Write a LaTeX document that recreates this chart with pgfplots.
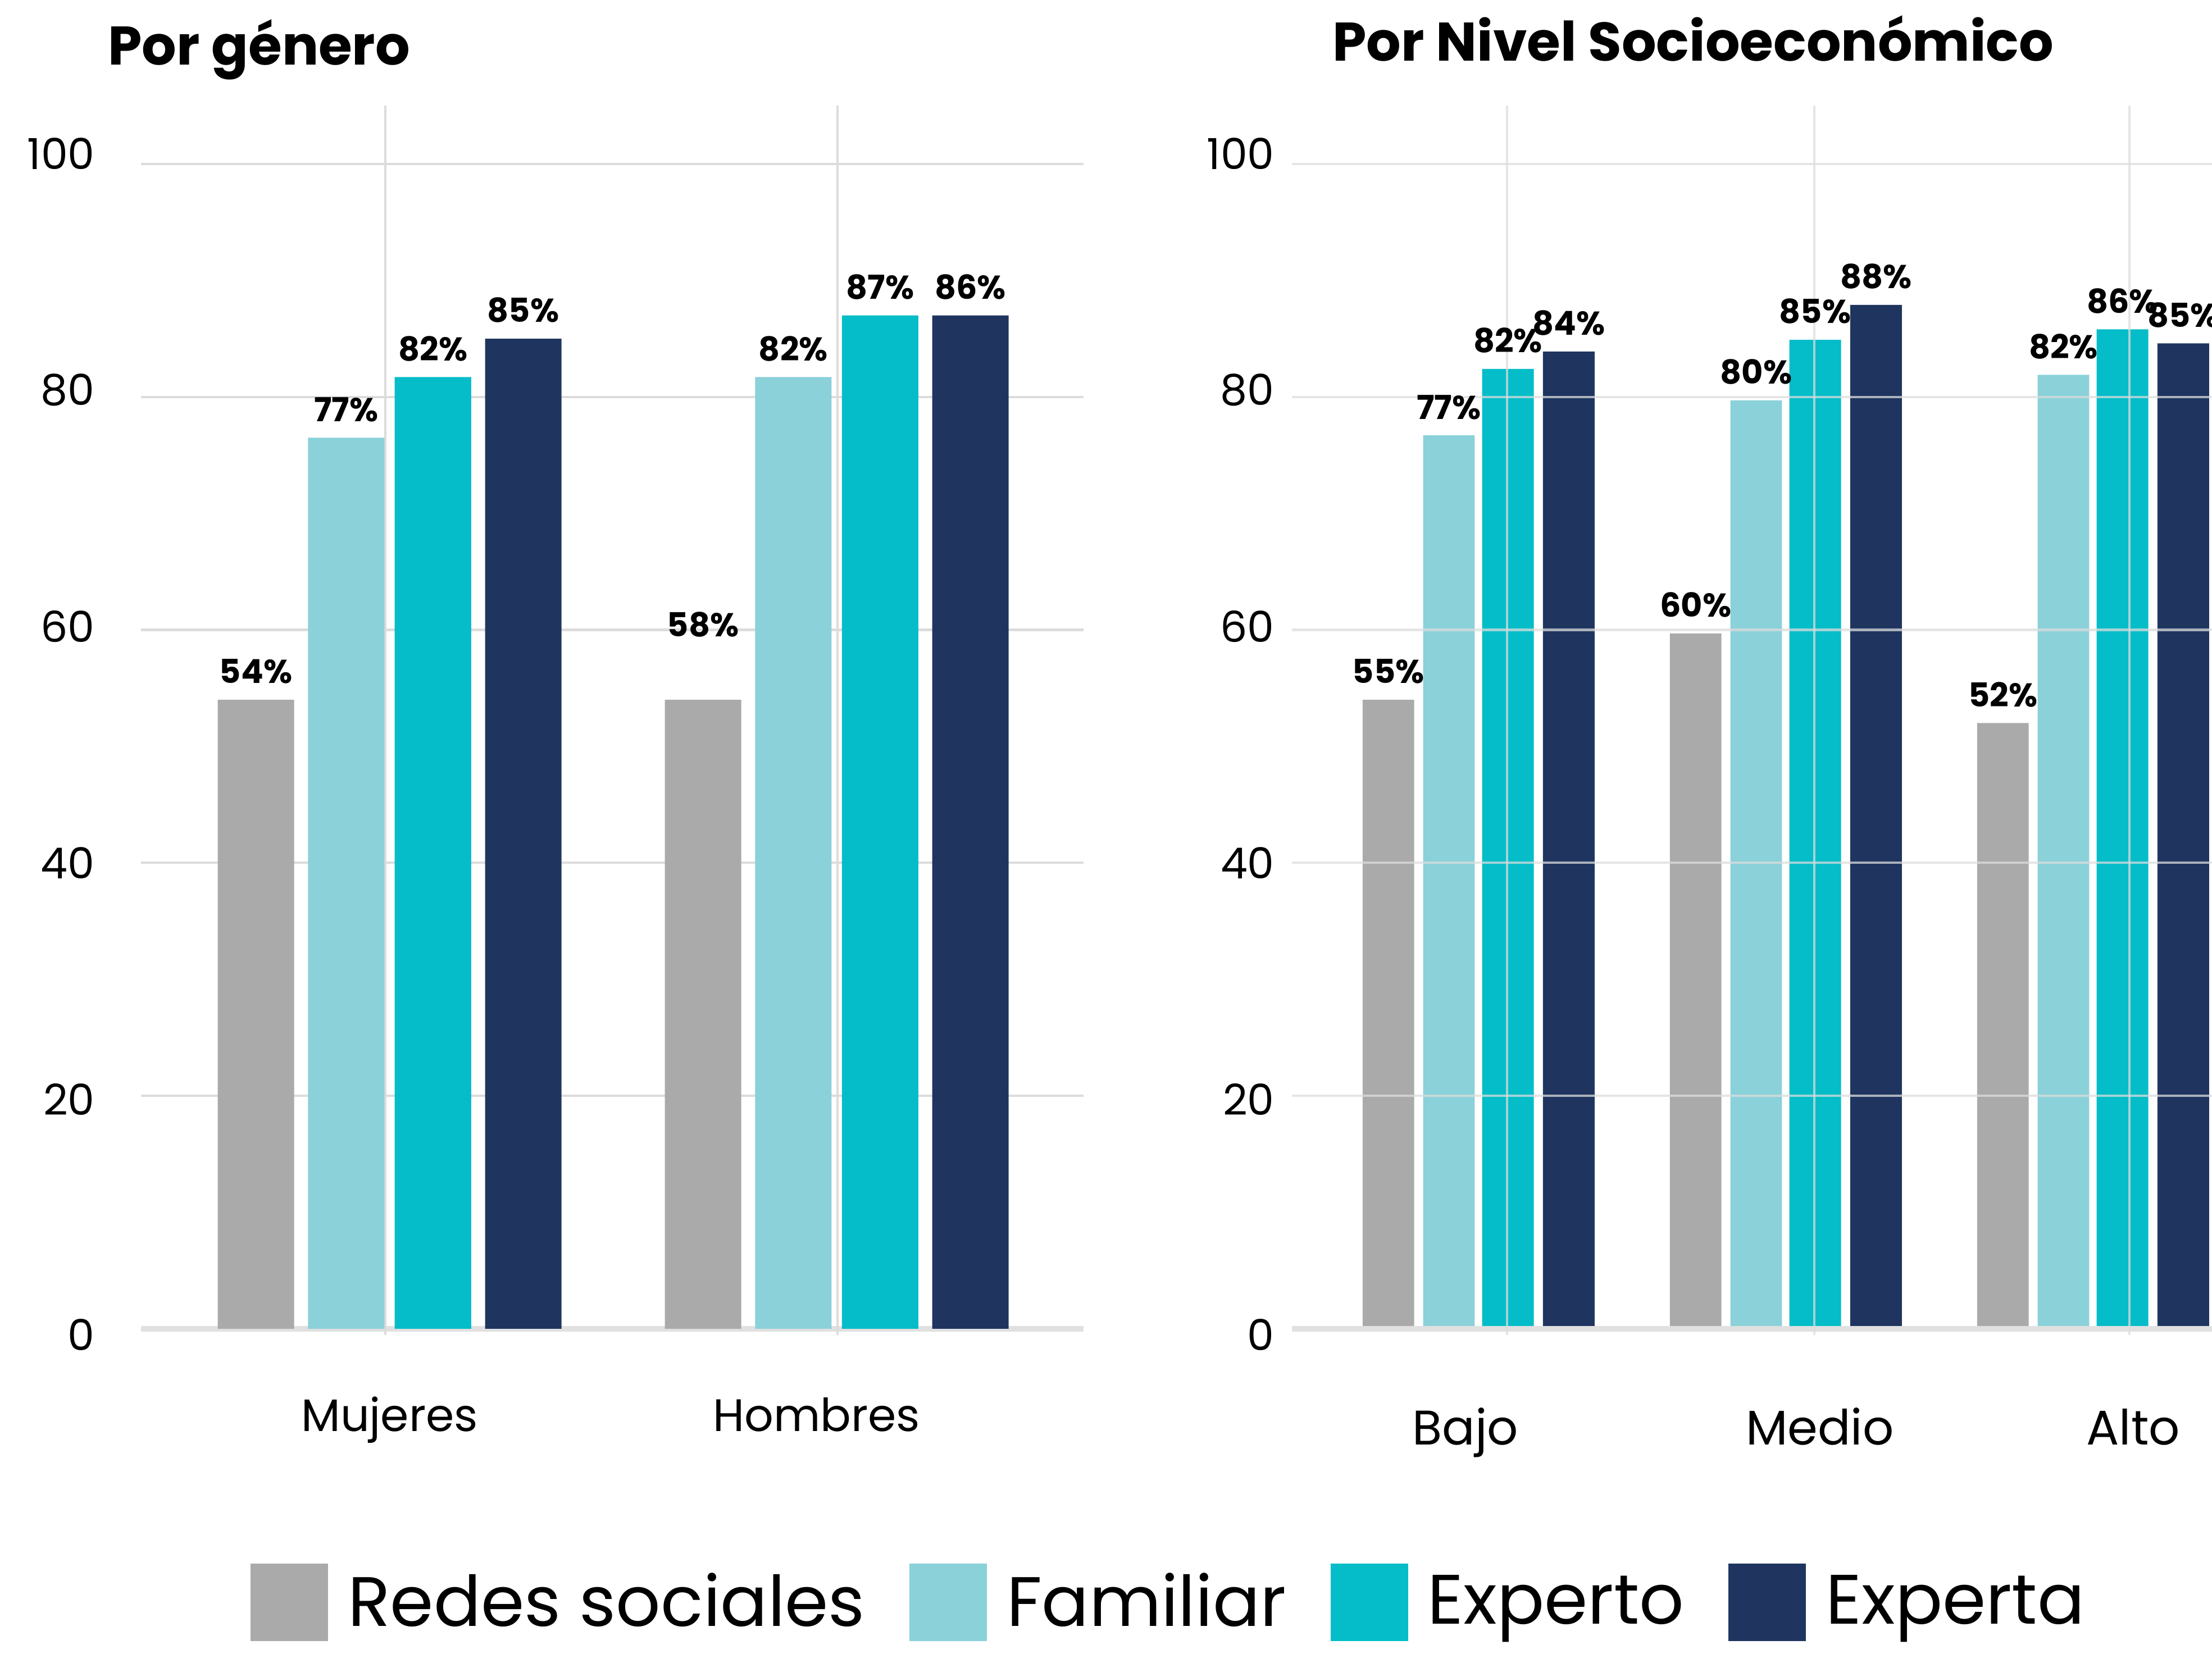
\documentclass[border=0pt]{standalone}
\usepackage{fontspec}
\setmainfont{Poppins}
\usepackage{pgfplots}
\usepackage{pgfplotstable}
\pgfplotsset{compat=1.18}
\definecolor{cRed}{HTML}{AAAAAA}
\definecolor{cFam}{HTML}{8AD1D9}
\definecolor{cExpo}{HTML}{04BDC8}
\definecolor{cExpa}{HTML}{1F3560}
\definecolor{cGrid}{HTML}{DCDCDC}
\definecolor{cBase}{HTML}{E0E0E0}

% drawn bar height / printed label (redpos = where the grey label sits)
\pgfplotstableread{
x red redpos redl fam faml expo expol expa expal
0 54.0 54.0 54 76.5 77 81.7 82 85.0 85
1 54.0 58.0 58 81.7 82 87.0 87 87.0 86
}\genero
\pgfplotstableread{
x red redl fam faml expo expol expa expal
0 54.0 55 76.7 77 82.4 82 83.9 84
1 59.7 60 79.7 80 84.9 85 87.9 88
2 52.0 52 81.9 82 85.8 86 84.6 85
}\nse

\pgfplotsset{
  lab/.style={
    nodes near coords={\pgfplotspointmeta\%},
    nodes near coords style={font=\fontsize{8.5}{10}\bfseries\selectfont, anchor=south, inner sep=0pt, yshift=0.137cm, text=black},
  },
  panel/.style={
    scale only axis,
    ybar,
    ymin=-0.55, ymax=105,
    axis x line=middle, axis y line=left,
    x axis line style={draw=cBase, line width=1.4pt, -},
    y axis line style={draw=none},
    tick style={draw=none},
    major tick length=0pt,
    ytick={-0.53,19.7,40.0,60.3,80.6,100.9},
    yticklabels={0,20,40,60,80,100},
    yticklabel style={anchor=east, inner sep=0pt, font=\fontsize{11}{13}\selectfont},
    extra y ticks={20,40,60,80,100},
    extra y tick labels={,,,,},
    extra y tick style={grid=major},
    extra x tick style={grid=major},
    grid style={draw=cGrid, line width=0.6pt},
    point meta=explicit symbolic,
    clip=false,
  },
}

\begin{document}
\begin{tikzpicture}
\useasboundingbox (0,0) rectangle (20cm,14.9568cm);
\clip (0,0) rectangle (20cm,14.9568cm);

\begin{axis}[panel,
  at={(1.2747cm,2.8827cm)}, anchor=south west,
  width=8.5221cm, height=11.118cm,
  xmin=-0.556, xmax=1.552,
  bar width=0.171,
  xtick={0,0.955}, xticklabels={Mujeres,Hombres},
  xticklabel style={anchor=base, inner sep=0pt, yshift=-0.929cm, font=\fontsize{11.7}{14}\selectfont},
  extra x ticks={-0.01,1.002}, extra x tick labels={,},
  yticklabel style={xshift=-0.411cm},
  legend columns=4,
  legend style={at={(0.1162,-0.1859)}, anchor=north west, draw=none, fill=none,
    inner sep=0pt, outer sep=0pt, font=\fontsize{18}{20}\selectfont,
    nodes={inner sep=0pt},
    /tikz/every odd column/.append style={column sep=0.18cm},
    /tikz/every even column/.append style={column sep=0.40cm},
    cells={anchor=west}},
  legend image code/.code={\fill[#1] (0cm,-0.35cm) rectangle (0.70cm,0.35cm);},
]
\addplot[fill=cRed, draw=none, bar shift=-0.299] table[x=x, y=red, meta=redl] {\genero};
\addplot[fill=cFam, draw=none, bar shift=-0.097, lab] table[x=x, y=fam, meta=faml] {\genero};
\addplot[fill=cExpo, draw=none, bar shift=0.097, lab] table[x=x, y=expo, meta=expol] {\genero};
\addplot[fill=cExpa, draw=none, bar shift=0.299, lab] table[x=x, y=expa, meta=expal] {\genero};
\addplot[forget plot, fill=none, draw=none, bar shift=-0.299, lab] table[x=x, y=redpos, meta=redl] {\genero};
\legend{Redes sociales\rule[-0.24em]{0pt}{0.8em}, Familiar\rule[-0.24em]{0pt}{0.8em}, Experto\rule[-0.24em]{0pt}{0.8em}, Experta\rule[-0.24em]{0pt}{0.8em}}
\end{axis}

\begin{axis}[panel,
  at={(11.6811cm,2.8827cm)}, anchor=south west,
  width=8.9675cm, height=11.118cm,
  xmin=-0.608, xmax=2.62,
  bar width=0.168,
  axis on top,
  grid style={draw=cGrid, line width=0.6pt, opacity=0.75},
  xtick={-0.043,1.11,2.13}, xticklabels={Bajo,Medio,Alto},
  xticklabel style={anchor=base, inner sep=0pt, yshift=-1.051cm, font=\fontsize{12.5}{15}\selectfont},
  extra x ticks={0.092,1.092,2.117}, extra x tick labels={,,},
  yticklabel style={xshift=-0.152cm},
]
\addplot[fill=cRed, draw=none, bar shift=-0.294, lab] table[x=x, y=red, meta=redl] {\nse};
\addplot[fill=cFam, draw=none, bar shift=-0.097, lab] table[x=x, y=fam, meta=faml] {\nse};
\addplot[fill=cExpo, draw=none, bar shift=0.095, lab] table[x=x, y=expo, meta=expol] {\nse};
\addplot[fill=cExpa, draw=none, bar shift=0.293, lab] table[x=x, y=expa, meta=expal] {\nse};
\end{axis}

\node[anchor=base west, inner sep=0pt, font=\fontsize{14}{16}\bfseries\selectfont] at (0.970cm,14.368cm) {Por género};
\node[anchor=base west, inner sep=0pt, font=\fontsize{14}{16}\bfseries\selectfont] at (12.042cm,14.408cm) {Por Nivel Socioeconómico};
\end{tikzpicture}
\end{document}
